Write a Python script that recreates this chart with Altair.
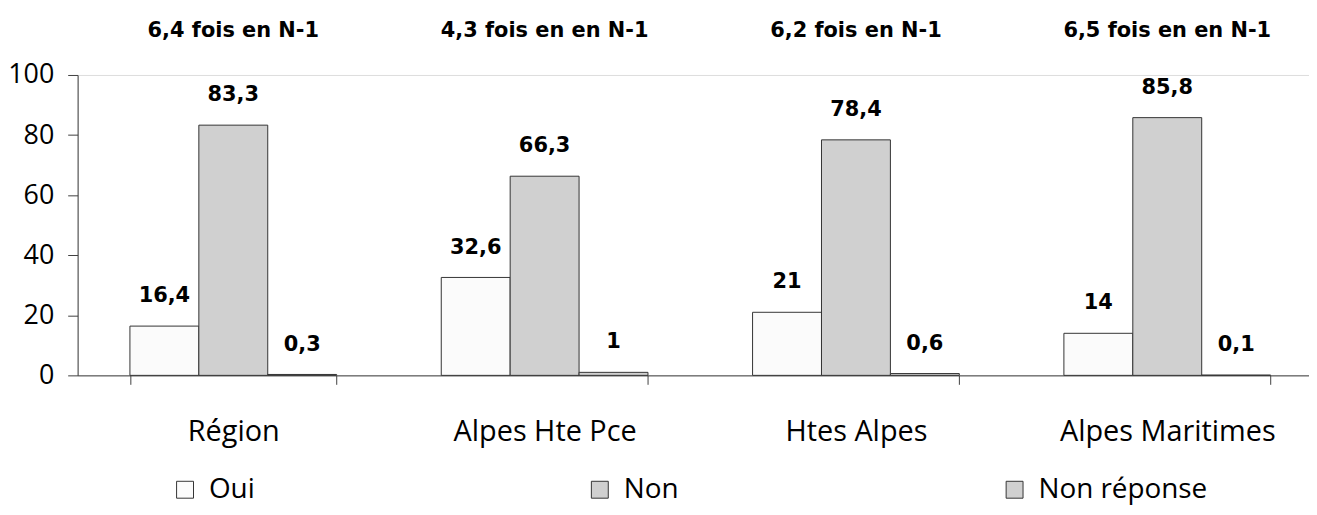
import altair as alt
import pandas as pd

categories = ["Région", "Alpes Hte Pce", "Htes Alpes", "Alpes Maritimes"]
series = ["Oui", "Non", "Non réponse"]
oui = [16.4, 32.6, 21, 14]
non = [83.3, 66.3, 78.4, 85.8]
non_reponse = [0.3, 1, 0.6, 0.1]
annotations = ["6,4 fois en N-1", "4,3 fois en en N-1", "6,2 fois en N-1", "6,5 fois en en N-1"]
colors = ["#fbfbfb", "#d0d0d0", "#d0d0d0"]

rows = []
for s, vals in zip(series, [oui, non, non_reponse]):
    for c, v in zip(categories, vals):
        rows.append({"cat": c, "serie": s, "val": v,
                     "label": f"{v:g}".replace(".", ",")})
df = pd.DataFrame(rows)
ann = pd.DataFrame({"cat": categories, "txt": annotations})

xscale = alt.Scale(domain=categories, range=[0, 1252], paddingInner=0.336, paddingOuter=0.168)
x = alt.X("cat:N", sort=categories, scale=xscale, title=None,
          axis=alt.Axis(labelAngle=0, tickBand="extent", tickSize=9, labelFont="Open Sans",
                        labelFontSize=29, labelColor="#000", labelPadding=56, labelLimit=400,
                        labelBaseline="alphabetic", domainColor="#404040", tickColor="#404040"))
xoff = alt.XOffset("serie:N", sort=series, scale=alt.Scale(paddingInner=0, paddingOuter=0))
y = alt.Y("val:Q", scale=alt.Scale(domain=[0, 100]), title=None,
          axis=alt.Axis(values=[0, 20, 40, 60, 80, 100], grid=False, tickSize=10,
                        labelPadding=14, labelFont="Open Sans", labelFontSize=27,
                        labelColor="#000", domainColor="#404040", tickColor="#404040"))

bars = alt.Chart(df).mark_bar(stroke="#333333", strokeWidth=1).encode(
    x=x, xOffset=xoff, y=y,
    color=alt.Color("serie:N", sort=series,
                    scale=alt.Scale(domain=series, range=colors),
                    legend=alt.Legend(title=None, orient="none", legendX=94, legendY=403,
                                      columns=3, gridAlign="all", columnPadding=209,
                                      symbolType="square", symbolSize=289,
                                      symbolStrokeColor="#333333", symbolStrokeWidth=1,
                                      symbolOpacity=1, labelFont="Open Sans",
                                      labelFontSize=28, labelColor="#000", labelOffset=10,
                                      padding=0, labelLimit=400))
)

labels = alt.Chart(df).mark_text(font="DejaVu Sans", fontWeight="bold", fontSize=21,
                                 baseline="middle", dy=-30, color="#000").encode(
    x=x, xOffset=xoff, y=y, text="label:N")

top = alt.Chart(ann).mark_text(font="DejaVu Sans", fontWeight="bold", fontSize=21,
                               baseline="middle", color="#000").encode(
    x=x, y=alt.value(-44), text="txt:N")

chart = alt.layer(bars, labels, top).properties(
    width=1238, height=302,
    autosize=alt.AutoSizeParams(type="none"),
    padding={"left": 70, "top": 66, "right": 0, "bottom": 130},
).configure_view(stroke=None).configure(background="white")

chart.save("out.html", embed_options={"renderer": "svg", "actions": False})
